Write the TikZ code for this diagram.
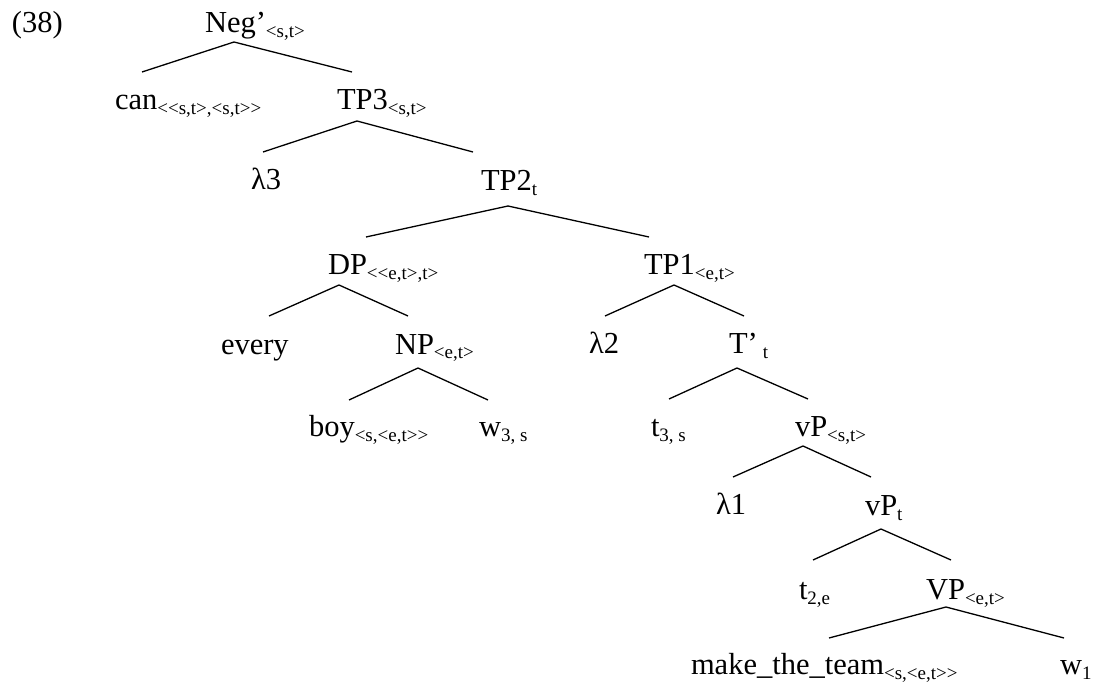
\documentclass[tikz,border=0pt]{standalone}
\usepackage{fontspec}
\setmainfont{Liberation Serif}[Ligatures=TeXOff]
\newcommand\lsub[1]{\raisebox{-5pt}{\fontsize{19}{20}\selectfont #1}}
\tikzset{
  lbl/.style={anchor=base west, inner sep=0pt, outer sep=0pt,
              font=\fontsize{30.5}{36}\selectfont},
  branch/.style={line width=1.3pt, line join=miter}
}
\begin{document}
\begin{tikzpicture}[x=1pt, y=-1pt]
\useasboundingbox (0,0) rectangle (1097,684);

% example number
\node[lbl] (num) at (12,33) {(38)};

% labels
\node[lbl] (neg)  at (205,33)  {Neg’\lsub{<s,t>}};
\node[lbl] (can)  at (115,110) {can\lsub{<<s,t>,<s,t>>}};
\node[lbl] (tp3)  at (337,110) {TP3\lsub{<s,t>}};
\node[lbl] (lam3) at (251,190) {λ3};
\node[lbl] (tp2)  at (481,191) {TP2\lsub{t}};
\node[lbl] (dp)   at (328,275) {DP\lsub{<<e,t>,t>}};
\node[lbl] (tp1)  at (644,275) {TP1\lsub{<e,t>}};
\node[lbl] (every) at (221,354) {every};
\node[lbl] (np)   at (395,354) {NP\lsub{<e,t>}};
\node[lbl] (lam2) at (589,353) {λ2};
\node[lbl] (tbar) at (729,353) {T’\,\lsub{t}};
\node[lbl] (boy)  at (309,436) {boy\lsub{<s,<e,t>>}};
\node[lbl] (wts)  at (479,436) {w\lsub{3, s}};
\node[lbl] (tts)  at (651,436) {t\lsub{3, s}};
\node[lbl] (vpst) at (795,436) {vP\lsub{<s,t>}};
\node[lbl] (lam1) at (716,514) {λ1};
\node[lbl] (vpt)  at (865,515) {vP\lsub{t}};
\node[lbl] (tte)  at (799,599) {t\lsub{2,e}};
\node[lbl] (vpet) at (926,599) {VP\lsub{<e,t>}};
\node[lbl] (mtt)  at (691,674) {make\_the\_team\lsub{<s,<e,t>>}};
\node[lbl] (wone) at (1060,674) {w\lsub{1}};

% branch points: apex under each mother, ends above the daughters
\coordinate (negA)  at (234,42);  \coordinate (negL)  at (142,72);  \coordinate (negR)  at (352,72);
\coordinate (tp3A)  at (357,121); \coordinate (tp3L)  at (263,152); \coordinate (tp3R)  at (473,152);
\coordinate (tp2A)  at (508,206); \coordinate (tp2L)  at (366,237); \coordinate (tp2R)  at (649,237);
\coordinate (dpA)   at (339,285); \coordinate (dpL)   at (269,316); \coordinate (dpR)   at (408,316);
\coordinate (tp1A)  at (674,285); \coordinate (tp1L)  at (605,316); \coordinate (tp1R)  at (744,316);
\coordinate (npA)   at (418,368); \coordinate (npL)   at (349,400); \coordinate (npR)   at (488,400);
\coordinate (tbarA) at (737,368); \coordinate (tbarL) at (669,399); \coordinate (tbarR) at (808,399);
\coordinate (vpstA) at (803,446); \coordinate (vpstL) at (733,477); \coordinate (vpstR) at (871,477);
\coordinate (vptA)  at (881,529); \coordinate (vptL)  at (813,560); \coordinate (vptR)  at (951,560);
\coordinate (vpetA) at (946,607); \coordinate (vpetL) at (829,638); \coordinate (vpetR) at (1064,638);

% branches
\foreach \m in {neg,tp3,tp2,dp,tp1,np,tbar,vpst,vpt,vpet}
  \draw[branch] (\m L) -- (\m A) -- (\m R);
\end{tikzpicture}
\end{document}
